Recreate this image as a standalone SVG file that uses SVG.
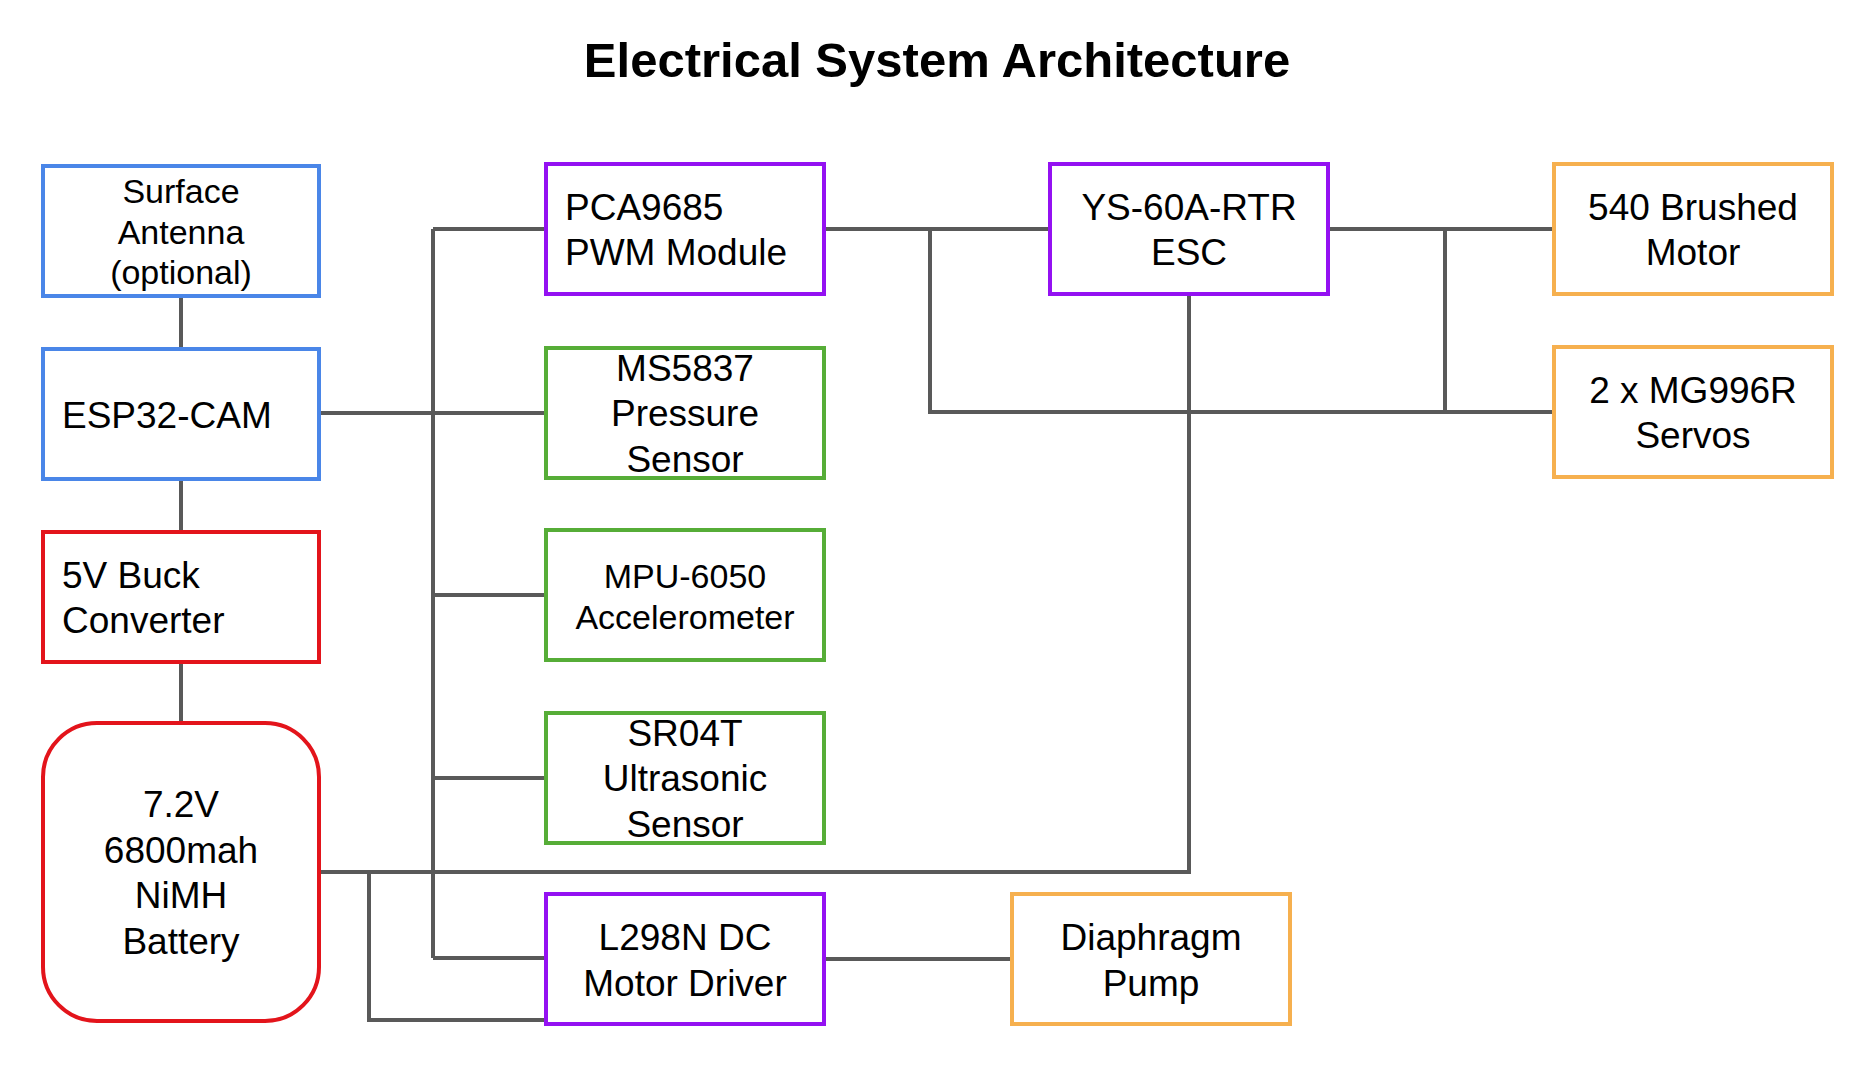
<svg xmlns="http://www.w3.org/2000/svg" width="1874" height="1067" viewBox="0 0 1874 1067">
<style>
.box{fill:#ffffff;stroke-width:4}
.blue{stroke:#4a86e8}
.red{stroke:#e3141b}
.purple{stroke:#9411f2}
.green{stroke:#56ad37}
.orange{stroke:#f6b04f}
.t{font-family:"Liberation Sans",Arial,sans-serif;font-size:37px;fill:#000}
.s{font-size:34px}
.c{text-anchor:middle}
.wire{fill:none;stroke:#595959;stroke-width:4}
</style>
<rect width="1874" height="1067" fill="#ffffff"/>
<text x="937" y="77" text-anchor="middle" font-family="Liberation Sans, Arial, sans-serif" font-size="49" font-weight="bold">Electrical System Architecture</text>
<g id="connectors">
<path class="wire" d="M181 296V349"/>
<path class="wire" d="M181 479V532"/>
<path class="wire" d="M181 662V723"/>
<path class="wire" d="M319 413H546"/>
<path class="wire" d="M433 229V958"/>
<path class="wire" d="M433 229H546"/>
<path class="wire" d="M433 595H546"/>
<path class="wire" d="M433 778H546"/>
<path class="wire" d="M433 958H546"/>
<path class="wire" d="M319 872H1189V294"/>
<path class="wire" d="M369 872V1020H546"/>
<path class="wire" d="M824 229H1050"/>
<path class="wire" d="M930 229V412H1554"/>
<path class="wire" d="M1328 229H1554"/>
<path class="wire" d="M1445 229V412"/>
<path class="wire" d="M824 959H1012"/>
</g>
<g id="antenna">
<rect class="box blue" x="43" y="166" width="276" height="130"/>
<text class="t s c" x="181" y="203">Surface</text>
<text class="t s c" x="181" y="244">Antenna</text>
<text class="t s c" x="181" y="284">(optional)</text>
</g>
<g id="esp32">
<rect class="box blue" x="43" y="349" width="276" height="130"/>
<text class="t" x="62" y="428">ESP32-CAM</text>
</g>
<g id="buck">
<rect class="box red" x="43" y="532" width="276" height="130"/>
<text class="t" x="62" y="588">5V Buck</text>
<text class="t" x="62" y="633">Converter</text>
</g>
<g id="battery">
<rect class="box red" x="43" y="723" width="276" height="298" rx="54"/>
<text class="t c" x="181" y="817">7.2V</text>
<text class="t c" x="181" y="863">6800mah</text>
<text class="t c" x="181" y="908">NiMH</text>
<text class="t c" x="181" y="954">Battery</text>
</g>
<g id="pca9685">
<rect class="box purple" x="546" y="164" width="278" height="130"/>
<text class="t" x="565" y="220">PCA9685</text>
<text class="t" x="565" y="265">PWM Module</text>
</g>
<g id="ms5837">
<rect class="box green" x="546" y="348" width="278" height="130"/>
<text class="t c" x="685" y="381">MS5837</text>
<text class="t c" x="685" y="426">Pressure</text>
<text class="t c" x="685" y="472">Sensor</text>
</g>
<g id="mpu6050">
<rect class="box green" x="546" y="530" width="278" height="130"/>
<text class="t s c" x="685" y="588">MPU-6050</text>
<text class="t s c" x="685" y="629">Accelerometer</text>
</g>
<g id="sr04t">
<rect class="box green" x="546" y="713" width="278" height="130"/>
<text class="t c" x="685" y="746">SR04T</text>
<text class="t c" x="685" y="791">Ultrasonic</text>
<text class="t c" x="685" y="837">Sensor</text>
</g>
<g id="l298n">
<rect class="box purple" x="546" y="894" width="278" height="130"/>
<text class="t c" x="685" y="950">L298N DC</text>
<text class="t c" x="685" y="996">Motor Driver</text>
</g>
<g id="esc">
<rect class="box purple" x="1050" y="164" width="278" height="130"/>
<text class="t c" x="1189" y="220">YS-60A-RTR</text>
<text class="t c" x="1189" y="265">ESC</text>
</g>
<g id="motor540">
<rect class="box orange" x="1554" y="164" width="278" height="130"/>
<text class="t c" x="1693" y="220">540 Brushed</text>
<text class="t c" x="1693" y="265">Motor</text>
</g>
<g id="servos">
<rect class="box orange" x="1554" y="347" width="278" height="130"/>
<text class="t c" x="1693" y="403">2 x MG996R</text>
<text class="t c" x="1693" y="448">Servos</text>
</g>
<g id="pump">
<rect class="box orange" x="1012" y="894" width="278" height="130"/>
<text class="t c" x="1151" y="950">Diaphragm</text>
<text class="t c" x="1151" y="996">Pump</text>
</g>
</svg>
